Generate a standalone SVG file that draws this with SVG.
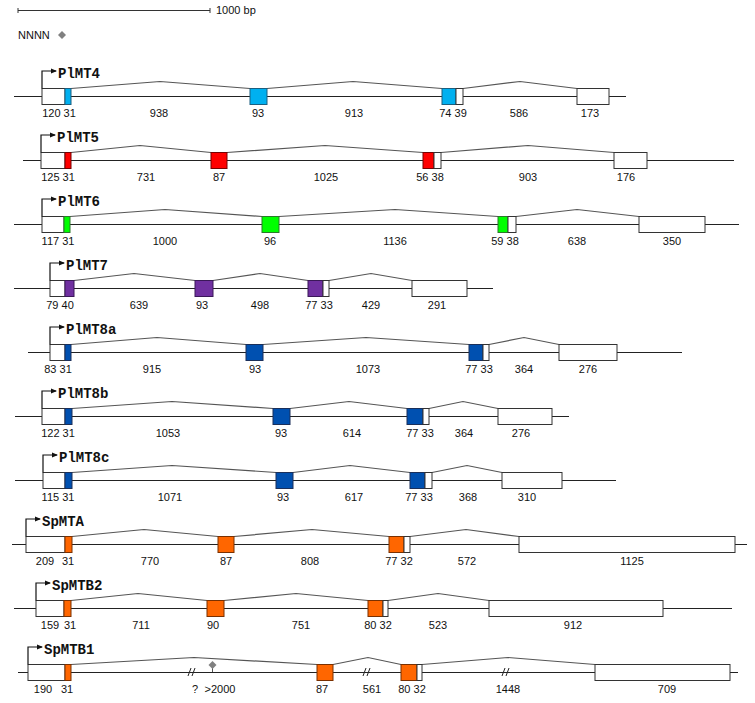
<svg xmlns="http://www.w3.org/2000/svg" width="755" height="703" viewBox="0 0 755 703">
<style>
.axis{stroke:#222;stroke-width:1.2}
.intron{fill:none;stroke:#555;stroke-width:1.2}
.utr{fill:#fff;stroke:#333;stroke-width:1}
.lbl{font-family:"Liberation Sans",Arial,sans-serif;font-size:11px;text-anchor:middle;fill:#111}
.name{font-family:"Liberation Mono","Courier New",monospace;font-size:14px;font-weight:bold;fill:#111}
.tss{fill:none;stroke:#111;stroke-width:1.2;marker-end:url(#ah)}
.cb{fill:#00B0F0;stroke:#1a5f80}
.cr{fill:#FF0000;stroke:#700}
.cg{fill:#00FF00;stroke:#2a7a2a}
.cp{fill:#7030A0;stroke:#3a1858}
.cd{fill:#0050B0;stroke:#1a2f5a}
.co{fill:#FF6600;stroke:#7a3000}
.brk{stroke:#222;stroke-width:1}
</style>
<defs>
<marker id="ah" viewBox="0 0 6 6" refX="5" refY="3" markerWidth="6" markerHeight="6" orient="auto" markerUnits="userSpaceOnUse">
<path d="M0,0.5 L6,3 L0,5.5 z" fill="#111"/>
</marker>
</defs>
<rect width="755" height="703" fill="#fff"/>

<g id="legend">
<line x1="18" y1="10.5" x2="210" y2="10.5" stroke="#333" stroke-width="1"/>
<line x1="18" y1="8" x2="18" y2="13" stroke="#333"/>
<line x1="210" y1="8" x2="210" y2="13" stroke="#333"/>
<text x="216" y="14" class="lbl" style="text-anchor:start">1000 bp</text>
<text x="18" y="39" class="lbl" style="text-anchor:start">NNNN</text>
<path d="M62,31 L66,35 L62,39 L58,35 z" fill="#808080"/>
</g>

<g id="connectors">
<polyline class="intron" points="71,88.5 160,81.5 250,88.5"/>
<polyline class="intron" points="267,88.5 353,81.5 442,88.5"/>
<polyline class="intron" points="463,88.5 520,81.5 577,88.5"/>

<polyline class="intron" points="71,152.5 140,145.5 211,152.5"/>
<polyline class="intron" points="227,152.5 325,145.5 423,152.5"/>
<polyline class="intron" points="441,152.5 528,145.5 614,152.5"/>

<polyline class="intron" points="70,216.5 165,209.5 262,216.5"/>
<polyline class="intron" points="279,216.5 395,209.5 498,216.5"/>
<polyline class="intron" points="516,216.5 577,209.5 639,216.5"/>

<polyline class="intron" points="74,280.5 134,273.5 195,280.5"/>
<polyline class="intron" points="213,280.5 260,273.5 308,280.5"/>
<polyline class="intron" points="329,280.5 371,273.5 412,280.5"/>

<polyline class="intron" points="71,344.5 157,337.5 246,344.5"/>
<polyline class="intron" points="263,344.5 366,337.5 469,344.5"/>
<polyline class="intron" points="489,344.5 524,337.5 559,344.5"/>

<polyline class="intron" points="72,408.5 172,401.5 273,408.5"/>
<polyline class="intron" points="290,408.5 349,401.5 407,408.5"/>
<polyline class="intron" points="429,408.5 463,401.5 498,408.5"/>

<polyline class="intron" points="72,472.5 172,465.5 276,472.5"/>
<polyline class="intron" points="293,472.5 350,465.5 410,472.5"/>
<polyline class="intron" points="432,472.5 467,465.5 502,472.5"/>

<polyline class="intron" points="72,536.5 144,529.5 218,536.5"/>
<polyline class="intron" points="234,536.5 312,529.5 389,536.5"/>
<polyline class="intron" points="410,536.5 466,529.5 519,536.5"/>

<polyline class="intron" points="71,600.5 138,593.5 207,600.5"/>
<polyline class="intron" points="224,600.5 296,593.5 368,600.5"/>
<polyline class="intron" points="388,600.5 438,593.5 489,600.5"/>

<polyline class="intron" points="71,664.5 194,657.5 317,664.5"/>
<polyline class="intron" points="333,664.5 368,657.5 401,664.5"/>
<polyline class="intron" points="422,664.5 508,657.5 595,664.5"/>
</g>

<g id="PlMT4">
<line class="axis" x1="14" y1="96.5" x2="626" y2="96.5"/>
<rect class="utr" x="42" y="88.5" width="23" height="16"/>
<rect class="cb" x="65" y="88.5" width="6" height="16"/>
<rect class="cb" x="250" y="88.5" width="17" height="16"/>
<rect class="cb" x="442" y="88.5" width="14" height="16"/>
<rect class="utr" x="456" y="88.5" width="7" height="16"/>
<rect class="utr" x="577" y="88.5" width="32" height="16"/>
<polyline class="tss" points="42,88.5 42,71 56,71"/>
<text class="name" x="58" y="78">PlMT4</text>
<text class="lbl" x="59" y="117">120 31</text>
<text class="lbl" x="159" y="117">938</text>
<text class="lbl" x="258" y="117">93</text>
<text class="lbl" x="354" y="117">913</text>
<text class="lbl" x="453" y="117">74 39</text>
<text class="lbl" x="519" y="117">586</text>
<text class="lbl" x="590" y="117">173</text>
</g>

<g id="PlMT5">
<line class="axis" x1="23" y1="160.5" x2="734" y2="160.5"/>
<rect class="utr" x="41" y="152.5" width="24" height="16"/>
<rect class="cr" x="65" y="152.5" width="6" height="16"/>
<rect class="cr" x="211" y="152.5" width="16" height="16"/>
<rect class="cr" x="423" y="152.5" width="11" height="16"/>
<rect class="utr" x="434" y="152.5" width="7" height="16"/>
<rect class="utr" x="614" y="152.5" width="33" height="16"/>
<polyline class="tss" points="41,152.5 41,135 55,135"/>
<text class="name" x="57" y="142">PlMT5</text>
<text class="lbl" x="58" y="181">125 31</text>
<text class="lbl" x="146" y="181">731</text>
<text class="lbl" x="219" y="181">87</text>
<text class="lbl" x="326" y="181">1025</text>
<text class="lbl" x="430" y="181">56 38</text>
<text class="lbl" x="528" y="181">903</text>
<text class="lbl" x="626" y="181">176</text>
</g>

<g id="PlMT6">
<line class="axis" x1="14" y1="224.5" x2="739" y2="224.5"/>
<rect class="utr" x="42" y="216.5" width="22" height="16"/>
<rect class="cg" x="64" y="216.5" width="6" height="16"/>
<rect class="cg" x="262" y="216.5" width="17" height="16"/>
<rect class="cg" x="498" y="216.5" width="10" height="16"/>
<rect class="utr" x="508" y="216.5" width="8" height="16"/>
<rect class="utr" x="639" y="216.5" width="66" height="16"/>
<polyline class="tss" points="42,216.5 42,199 56,199"/>
<text class="name" x="58" y="206">PlMT6</text>
<text class="lbl" x="58" y="245">117 31</text>
<text class="lbl" x="165" y="245">1000</text>
<text class="lbl" x="270" y="245">96</text>
<text class="lbl" x="395" y="245">1136</text>
<text class="lbl" x="505" y="245">59 38</text>
<text class="lbl" x="577" y="245">638</text>
<text class="lbl" x="672" y="245">350</text>
</g>

<g id="PlMT7">
<line class="axis" x1="14" y1="288.5" x2="493" y2="288.5"/>
<rect class="utr" x="50" y="280.5" width="15" height="16"/>
<rect class="cp" x="65" y="280.5" width="9" height="16"/>
<rect class="cp" x="195" y="280.5" width="18" height="16"/>
<rect class="cp" x="308" y="280.5" width="15" height="16"/>
<rect class="utr" x="323" y="280.5" width="6" height="16"/>
<rect class="utr" x="412" y="280.5" width="55" height="16"/>
<polyline class="tss" points="50,280.5 50,263 64,263"/>
<text class="name" x="66" y="270">PlMT7</text>
<text class="lbl" x="60" y="309">79 40</text>
<text class="lbl" x="139" y="309">639</text>
<text class="lbl" x="202" y="309">93</text>
<text class="lbl" x="260" y="309">498</text>
<text class="lbl" x="319" y="309">77 33</text>
<text class="lbl" x="371" y="309">429</text>
<text class="lbl" x="437" y="309">291</text>
</g>

<g id="PlMT8a">
<line class="axis" x1="28" y1="352.5" x2="682" y2="352.5"/>
<rect class="utr" x="50" y="344.5" width="15" height="16"/>
<rect class="cd" x="65" y="344.5" width="6" height="16"/>
<rect class="cd" x="246" y="344.5" width="17" height="16"/>
<rect class="cd" x="469" y="344.5" width="14" height="16"/>
<rect class="utr" x="483" y="344.5" width="6" height="16"/>
<rect class="utr" x="559" y="344.5" width="58" height="16"/>
<polyline class="tss" points="50,344.5 50,327 64,327"/>
<text class="name" x="66" y="334">PlMT8a</text>
<text class="lbl" x="58" y="373">83 31</text>
<text class="lbl" x="152" y="373">915</text>
<text class="lbl" x="255" y="373">93</text>
<text class="lbl" x="368" y="373">1073</text>
<text class="lbl" x="479" y="373">77 33</text>
<text class="lbl" x="524" y="373">364</text>
<text class="lbl" x="588" y="373">276</text>
</g>

<g id="PlMT8b">
<line class="axis" x1="15" y1="416.5" x2="569" y2="416.5"/>
<rect class="utr" x="42" y="408.5" width="23" height="16"/>
<rect class="cd" x="65" y="408.5" width="7" height="16"/>
<rect class="cd" x="273" y="408.5" width="17" height="16"/>
<rect class="cd" x="407" y="408.5" width="16" height="16"/>
<rect class="utr" x="423" y="408.5" width="6" height="16"/>
<rect class="utr" x="498" y="408.5" width="54" height="16"/>
<polyline class="tss" points="42,408.5 42,391 56,391"/>
<text class="name" x="58" y="398">PlMT8b</text>
<text class="lbl" x="58" y="437">122 31</text>
<text class="lbl" x="168" y="437">1053</text>
<text class="lbl" x="281" y="437">93</text>
<text class="lbl" x="352" y="437">614</text>
<text class="lbl" x="420" y="437">77 33</text>
<text class="lbl" x="464" y="437">364</text>
<text class="lbl" x="521" y="437">276</text>
</g>

<g id="PlMT8c">
<line class="axis" x1="15" y1="480.5" x2="616" y2="480.5"/>
<rect class="utr" x="43" y="472.5" width="22" height="16"/>
<rect class="cd" x="65" y="472.5" width="7" height="16"/>
<rect class="cd" x="276" y="472.5" width="17" height="16"/>
<rect class="cd" x="410" y="472.5" width="15" height="16"/>
<rect class="utr" x="425" y="472.5" width="7" height="16"/>
<rect class="utr" x="502" y="472.5" width="60" height="16"/>
<polyline class="tss" points="43,472.5 43,455 57,455"/>
<text class="name" x="59" y="462">PlMT8c</text>
<text class="lbl" x="58" y="501">115 31</text>
<text class="lbl" x="170" y="501">1071</text>
<text class="lbl" x="283" y="501">93</text>
<text class="lbl" x="354" y="501">617</text>
<text class="lbl" x="419" y="501">77 33</text>
<text class="lbl" x="468" y="501">368</text>
<text class="lbl" x="527" y="501">310</text>
</g>

<g id="SpMTA">
<line class="axis" x1="12" y1="544.5" x2="747" y2="544.5"/>
<rect class="utr" x="26" y="536.5" width="39" height="16"/>
<rect class="co" x="65" y="536.5" width="7" height="16"/>
<rect class="co" x="218" y="536.5" width="16" height="16"/>
<rect class="co" x="389" y="536.5" width="15" height="16"/>
<rect class="utr" x="404" y="536.5" width="6" height="16"/>
<rect class="utr" x="519" y="536.5" width="216" height="16"/>
<polyline class="tss" points="26,536.5 26,519 40,519"/>
<text class="name" x="42" y="526">SpMTA</text>
<text class="lbl" x="45" y="565">209</text>
<text class="lbl" x="68" y="565">31</text>
<text class="lbl" x="150" y="565">770</text>
<text class="lbl" x="226" y="565">87</text>
<text class="lbl" x="310" y="565">808</text>
<text class="lbl" x="399" y="565">77 32</text>
<text class="lbl" x="467" y="565">572</text>
<text class="lbl" x="632" y="565">1125</text>
</g>

<g id="SpMTB2">
<line class="axis" x1="14" y1="608.5" x2="732" y2="608.5"/>
<rect class="utr" x="36" y="600.5" width="28" height="16"/>
<rect class="co" x="64" y="600.5" width="7" height="16"/>
<rect class="co" x="207" y="600.5" width="17" height="16"/>
<rect class="co" x="368" y="600.5" width="15" height="16"/>
<rect class="utr" x="383" y="600.5" width="5" height="16"/>
<rect class="utr" x="489" y="600.5" width="174" height="16"/>
<polyline class="tss" points="36,600.5 36,583 50,583"/>
<text class="name" x="52" y="590">SpMTB2</text>
<text class="lbl" x="50" y="629">159</text>
<text class="lbl" x="70" y="629">31</text>
<text class="lbl" x="141" y="629">711</text>
<text class="lbl" x="213" y="629">90</text>
<text class="lbl" x="301" y="629">751</text>
<text class="lbl" x="378" y="629">80 32</text>
<text class="lbl" x="438" y="629">523</text>
<text class="lbl" x="573" y="629">912</text>
</g>

<g id="SpMTB1">
<line class="axis" x1="18" y1="672.5" x2="738" y2="672.5"/>
<rect class="utr" x="28" y="664.5" width="37" height="16"/>
<rect class="co" x="65" y="664.5" width="6" height="16"/>
<rect class="co" x="317" y="664.5" width="16" height="16"/>
<rect class="co" x="401" y="664.5" width="16" height="16"/>
<rect class="utr" x="417" y="664.5" width="5" height="16"/>
<rect class="utr" x="595" y="664.5" width="135" height="16"/>
<line class="brk" x1="188" y1="676" x2="191" y2="668"/>
<line class="brk" x1="192" y1="676" x2="195" y2="668"/>
<line class="brk" x1="363" y1="676" x2="366" y2="668"/>
<line class="brk" x1="367" y1="676" x2="370" y2="668"/>
<line class="brk" x1="502" y1="676" x2="505" y2="668"/>
<line class="brk" x1="506" y1="676" x2="509" y2="668"/>
<line x1="212.5" y1="665" x2="212.5" y2="672" stroke="#555" stroke-width="1"/>
<path d="M212.5,661 L216.5,665 L212.5,669 L208.5,665 z" fill="#808080"/>
<polyline class="tss" points="28,664.5 28,647 42,647"/>
<text class="name" x="44" y="654">SpMTB1</text>
<text class="lbl" x="43" y="693">190</text>
<text class="lbl" x="67" y="693">31</text>
<text class="lbl" x="195" y="693">?</text>
<text class="lbl" x="220" y="693">&gt;2000</text>
<text class="lbl" x="322" y="693">87</text>
<text class="lbl" x="372" y="693">561</text>
<text class="lbl" x="412" y="693">80 32</text>
<text class="lbl" x="508" y="693">1448</text>
<text class="lbl" x="667" y="693">709</text>
</g>
</svg>
